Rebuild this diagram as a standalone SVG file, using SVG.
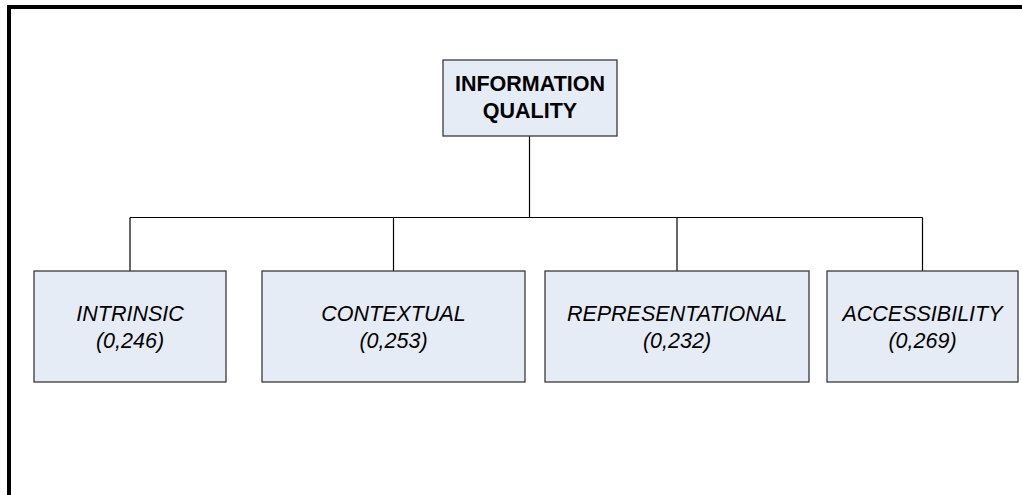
<svg xmlns="http://www.w3.org/2000/svg" width="1022" height="495" viewBox="0 0 1022 495">
  <style>
    .box { fill: #E6ECF6; stroke: #3a3a3a; stroke-width: 1.3; }
    .conn { fill: none; stroke: #000; stroke-width: 1.2; }
    .t { font-family: "Liberation Sans", Arial, sans-serif; font-size: 21.5px; fill: #000; text-anchor: middle; }
    .b { font-weight: bold; }
    .i { font-style: italic; }
  </style>
  <rect x="0" y="0" width="1022" height="495" fill="#fff"/>
  <path d="M9,495 V7 H1030" fill="none" stroke="#000" stroke-width="4"/>
  <g id="connectors">
    <line class="conn" x1="529.5" y1="136" x2="529.5" y2="217.5"/>
    <line class="conn" x1="130" y1="217.5" x2="922.5" y2="217.5"/>
    <line class="conn" x1="130" y1="217.5" x2="130" y2="271"/>
    <line class="conn" x1="393.5" y1="217.5" x2="393.5" y2="271"/>
    <line class="conn" x1="677" y1="217.5" x2="677" y2="271"/>
    <line class="conn" x1="922.5" y1="217.5" x2="922.5" y2="271"/>
  </g>
  <g id="information-quality">
    <rect class="box" x="443" y="60" width="174" height="76"/>
    <text class="t b" x="530" y="91">INFORMATION</text>
    <text class="t b" x="530" y="117.5">QUALITY</text>
  </g>
  <g id="intrinsic">
    <rect class="box" x="34" y="271" width="192" height="111"/>
    <text class="t i" x="130" y="321">INTRINSIC</text>
    <text class="t i" x="130" y="348">(0,246)</text>
  </g>
  <g id="contextual">
    <rect class="box" x="262" y="271" width="263" height="111"/>
    <text class="t i" x="393.5" y="321">CONTEXTUAL</text>
    <text class="t i" x="393.5" y="348">(0,253)</text>
  </g>
  <g id="representational">
    <rect class="box" x="545" y="271" width="264" height="111"/>
    <text class="t i" x="677" y="321">REPRESENTATIONAL</text>
    <text class="t i" x="677" y="348">(0,232)</text>
  </g>
  <g id="accessibility">
    <rect class="box" x="827" y="271" width="191" height="111"/>
    <text class="t i" x="922.5" y="321">ACCESSIBILITY</text>
    <text class="t i" x="922.5" y="348">(0,269)</text>
  </g>
</svg>
